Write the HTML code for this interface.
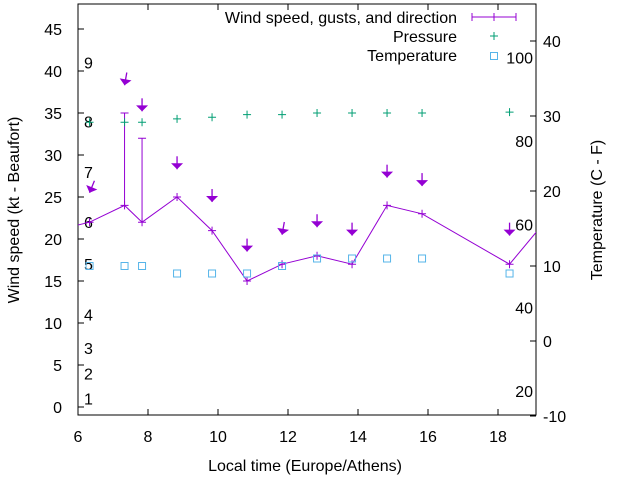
<!DOCTYPE html>
<html><head><meta charset="utf-8"><style>
html,body{margin:0;padding:0;background:#fff}
svg{display:block;font-family:"Liberation Sans",sans-serif}
</style></head><body>
<svg id="c" width="640" height="480" viewBox="0 0 640 480"></svg>
<script>
const times=[5.33,6.33,7.33,7.83,8.83,9.83,10.83,11.83,12.83,13.83,14.83,15.83,18.33,19.33];
const windKt=[21,22,24,22,25,21,15,17,18,17,24,23,17,22];
const gustTimes=[7.33,7.83];
const gustKt=[35,32];
const arrowTimes=[6.33,7.33,7.83,8.83,9.83,10.83,11.83,12.83,13.83,14.83,15.83,18.33];
const arrowKt=[25.5,38.3,35.2,28.3,24.4,18.5,20.5,21.4,20.4,27.3,26.3,20.4];
const arrowDir=[22,10,0,0,0,0,10,0,0,0,0,0];
const pressTimes=[6.33,7.33,7.83,8.83,9.83,10.83,11.83,12.83,13.83,14.83,15.83,18.33];
const pressKt=[33.9,33.9,33.9,34.3,34.5,34.8,34.8,35.0,35.0,35.0,35.0,35.1];
const tempTimes=[6.33,7.33,7.83,8.83,9.83,10.83,11.83,12.83,13.83,14.83,15.83,18.33];
const tempC=[10,10,10,9,9,9,10,11,11,11,11,9];
const xTicks=[6,8,10,12,14,16,18];
const yTicks=[0,5,10,15,20,25,30,35,40,45];
const y2Ticks=[-10,0,10,20,30,40];
const beaufortKt=[1,4,7,11,17,22,28,34,41];
const beaufortLbl=["1","2","3","4","5","6","7","8","9"];
const fahrenheit=[20,40,60,80,100];

const L=78,R=536,T=4,B=415;
const X=t=>L+(t-6)*35;
const Y=k=>407-k*8.4;
const Y2=c=>341-c*7.5;
const svg=document.getElementById('c');
const NS='http://www.w3.org/2000/svg';
function el(tag,attrs,parent){const e=document.createElementNS(NS,tag);for(const k in attrs)e.setAttribute(k,attrs[k]);(parent||svg).appendChild(e);return e;}
function txt(s,x,y,anchor,parent,extra){const e=el('text',Object.assign({x:x,y:y,'font-size':16,'text-anchor':anchor,fill:'#000'},extra||{}),parent);e.textContent=s;return e;}

// clip
const defs=el('defs',{});const cp=el('clipPath',{id:'pc'},defs);el('rect',{x:L,y:T,width:R-L,height:B-T},cp);

// axes
const ax=el('g',{});


el('rect',{x:L,y:T,width:R-L,height:B-T,fill:'none',stroke:'#000','stroke-width':1},ax);
xTicks.forEach(t=>{const x=X(t);el('line',{x1:x,y1:B,x2:x,y2:B-6,stroke:'#000'},ax);el('line',{x1:x,y1:T,x2:x,y2:T+6,stroke:'#000'},ax);
 const e=txt(String(t),x,442,'middle',ax);});
yTicks.forEach(v=>{const y=Y(v);el('line',{x1:L,y1:y,x2:L+6,y2:y,stroke:'#000'},ax);
 const e=txt(String(v),62,y+6,'end',ax);});
y2Ticks.forEach(v=>{const y=Y2(v);el('line',{x1:R,y1:y,x2:R-6,y2:y,stroke:'#000'},ax);
 const e=txt(String(v),543,y+6,'start',ax);});
beaufortKt.forEach((k,i)=>{const e=txt(beaufortLbl[i],84,Y(k)+6,'start',ax);});
fahrenheit.forEach(f=>{const c=(f-32)*5/9;const e=txt(String(f),533,Y2(c)+6,'end',ax);});
let t1=txt('Local time (Europe/Athens)',305,471,'middle');

let t2=txt('Wind speed (kt - Beaufort)',0,0,'middle',svg,{transform:'translate(19,210) rotate(-90)'});

let t3=txt('Temperature (C - F)',0,0,'middle',svg,{transform:'translate(602,210) rotate(-90)'});


const pg=el('g',{'clip-path':'url(#pc)'});
// wind line
let pts=times.map((t,i)=>X(t)+','+Y(windKt[i])).join(' ');
const wl=el('polyline',{points:pts,fill:'none',stroke:'#9400d3','stroke-width':1},pg);

times.forEach((t,i)=>{const x=X(t),y=Y(windKt[i]);const p=el('path',{d:`M${x-4},${y}h8M${x},${y-4}v8`,stroke:'#9400d3'},pg);
 });
gustTimes.forEach((t,i)=>{const x=X(t);const ti=times.indexOf(t);const y0=Y(windKt[ti]),y1=Y(gustKt[i]);
 const p=el('path',{d:`M${x},${y0}V${y1}M${x-4},${y1}h8`,stroke:'#9400d3'},pg);
 });
arrowTimes.forEach((t,i)=>{const x=X(t),y=Y(arrowKt[i]);const g=el('g',{transform:`translate(${x},${y}) rotate(${arrowDir[i]})`},pg);
 
 el('line',{x1:0,y1:-13,x2:0,y2:0,stroke:'#9400d3','stroke-width':1.3},g);
 el('path',{d:'M-6,-6L6,-6L0,0Z',fill:'#9400d3'},g);});
pressTimes.forEach((t,i)=>{const x=X(t),y=Y(pressKt[i]);const p=el('path',{d:`M${x-4},${y}h8M${x},${y-4}v8`,stroke:'#009e73'},pg);
 });
tempTimes.forEach((t,i)=>{const x=X(t),y=Y2(tempC[i]);const p=el('rect',{x:x-3.5,y:y-3.5,width:7,height:7,fill:'none',stroke:'#56b4e9'},pg);
 });

// legend
const lg=el('g',{});

txt('Wind speed, gusts, and direction',457,23,'end',lg);
el('path',{d:'M472,17h44M472,13v8M516,13v8M494,13v8',stroke:'#9400d3'},lg);
txt('Pressure',457,42,'end',lg);
el('path',{d:'M490,36h8M494,32v8',stroke:'#009e73'},lg);
txt('Temperature',457,61,'end',lg);
el('rect',{x:490.5,y:52.5,width:7,height:7,fill:'none',stroke:'#56b4e9'},lg);
</script>
</body></html>
